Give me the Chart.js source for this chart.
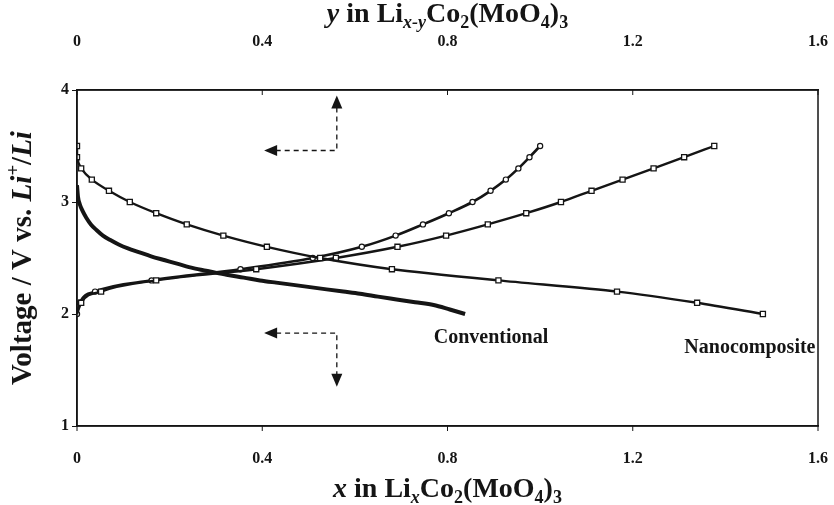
<!DOCTYPE html>
<html>
<head>
<meta charset="utf-8">
<script src="https://cdn.jsdelivr.net/npm/chart.js@4.4.1/dist/chart.umd.min.js"></script>
<style>
  html, body { margin: 0; padding: 0; background: #fff; overflow: hidden; }
</style>
</head>
<body>
<canvas id="voltageChart" width="834" height="505"></canvas>
<script>
// tick values (both x axes share the 0..1.6 range)
const xTicks = [0, 0.4, 0.8, 1.2, 1.6];
const yTicks = [1, 2, 3, 4];

// nanocomposite, discharge (squares)
const nanoDisX = [0, 0, 0.009, 0.032, 0.069, 0.114, 0.171, 0.237, 0.316, 0.41, 0.525, 0.68, 0.91, 1.166, 1.339, 1.481];
const nanoDisV = [3.5, 3.4, 3.3, 3.2, 3.1, 3.0, 2.9, 2.8, 2.7, 2.6, 2.5, 2.4, 2.3, 2.2, 2.1, 2.0];

// nanocomposite, charge (squares, top axis y)
const nanoChgX = [0, 0.009, 0.052, 0.171, 0.387, 0.559, 0.692, 0.797, 0.887, 0.970, 1.045, 1.111, 1.178, 1.245, 1.311, 1.376];
const nanoChgV = [2.0, 2.1, 2.2, 2.3, 2.4, 2.5, 2.6, 2.7, 2.8, 2.9, 3.0, 3.1, 3.2, 3.3, 3.4, 3.5];

// conventional, discharge (dense line)
const convDisX = [0, 0.002, 0.006, 0.012, 0.02, 0.03, 0.042, 0.056, 0.072, 0.09, 0.11, 0.135, 0.16, 0.19, 0.22, 0.251,
  0.287, 0.323, 0.36, 0.395, 0.43, 0.467, 0.503, 0.539, 0.575, 0.611, 0.65, 0.69, 0.73, 0.77, 0.805, 0.838];
const convDisV = [3.15, 3.05, 2.98, 2.92, 2.86, 2.80, 2.75, 2.70, 2.66, 2.62, 2.585, 2.55, 2.515, 2.48, 2.445, 2.41,
  2.38, 2.35, 2.325, 2.30, 2.28, 2.26, 2.24, 2.22, 2.20, 2.18, 2.155, 2.13, 2.105, 2.08, 2.04, 2.00];

// conventional, charge (circles, top axis y)
const convChgX = [0, 0.006, 0.039, 0.161, 0.353, 0.509, 0.615, 0.688, 0.747, 0.803, 0.854, 0.893, 0.926, 0.953, 0.977, 1.0];
const convChgV = [2.0, 2.1, 2.2, 2.3, 2.4, 2.5, 2.6, 2.7, 2.8, 2.9, 3.0, 3.1, 3.2, 3.3, 3.4, 3.5];

const FONT = '"Liberation Serif", "Times New Roman", serif';
const INK = "#151515";
const CLEAR = "rgba(0,0,0,0)";

const pts = (xs, vs) => xs.map((x, i) => ({ x, y: vs[i] }));

function richText(ctx, parts, cx, baseY, size) {
  const fontOf = p => (p.it ? "italic " : "") + "bold " + ((p.sub || p.sup) ? Math.round(size * 0.66) : size) + "px " + FONT;
  let total = 0;
  parts.forEach(p => { ctx.font = fontOf(p); total += ctx.measureText(p.t).width; });
  let px = cx - total / 2;
  ctx.textAlign = "left";
  ctx.textBaseline = "alphabetic";
  parts.forEach(p => {
    ctx.font = fontOf(p);
    const dy = p.sub ? size * 0.22 : p.sup ? -size * 0.42 : 0;
    ctx.fillText(p.t, px, baseY + dy);
    px += ctx.measureText(p.t).width;
  });
}

function dashedArrow(ctx, path, list) {
  ctx.save();
  ctx.setLineDash([5, 4]);
  ctx.lineWidth = 1.3;
  ctx.beginPath();
  ctx.moveTo(path[0][0], path[0][1]);
  for (let i = 1; i < path.length; i++) ctx.lineTo(path[i][0], path[i][1]);
  ctx.stroke();
  ctx.restore();
  list.forEach(([x, y, dir]) => {
    ctx.beginPath();
    if (dir === "left") { ctx.moveTo(x, y); ctx.lineTo(x + 13, y - 5.5); ctx.lineTo(x + 13, y + 5.5); }
    if (dir === "up") { ctx.moveTo(x, y); ctx.lineTo(x - 5.5, y + 13); ctx.lineTo(x + 5.5, y + 13); }
    if (dir === "down") { ctx.moveTo(x, y); ctx.lineTo(x - 5.5, y - 13); ctx.lineTo(x + 5.5, y - 13); }
    ctx.closePath();
    ctx.fill();
  });
}

const decor = {
  id: "decor",
  afterDraw(chart) {
    const { ctx, chartArea: a, scales: { x, y } } = chart;
    ctx.save();
    ctx.strokeStyle = INK;
    ctx.fillStyle = INK;

    // frame, inward ticks on top axis, outward ticks on bottom axis
    ctx.lineWidth = 1.5;
    ctx.strokeRect(a.left, a.top, a.right - a.left, a.bottom - a.top);
    ctx.lineWidth = 1;
    xTicks.forEach(v => {
      const px = x.getPixelForValue(v);
      ctx.beginPath();
      ctx.moveTo(px, a.top); ctx.lineTo(px, a.top + 5);
      ctx.moveTo(px, a.bottom); ctx.lineTo(px, a.bottom + 5);
      ctx.stroke();
    });

    // direction arrows
    const ax = x.getPixelForValue(0.561), lx = x.getPixelForValue(0.404);
    const up1 = y.getPixelForValue(3.95), mid1 = y.getPixelForValue(3.46);
    dashedArrow(ctx, [[ax, up1 + 12], [ax, mid1], [lx + 12, mid1]], [[ax, up1, "up"], [lx, mid1, "left"]]);
    const mid2 = y.getPixelForValue(1.83), dn2 = y.getPixelForValue(1.35);
    dashedArrow(ctx, [[lx + 12, mid2], [ax, mid2], [ax, dn2 - 12]], [[lx, mid2, "left"], [ax, dn2, "down"]]);

    // curve labels
    ctx.font = "bold 20px " + FONT;
    ctx.textAlign = "center";
    ctx.textBaseline = "middle";
    ctx.fillText("Conventional", x.getPixelForValue(0.894), y.getPixelForValue(1.786));
    ctx.fillText("Nanocomposite", x.getPixelForValue(1.453), y.getPixelForValue(1.70));

    // axis titles
    const cx = (a.left + a.right) / 2;
    richText(ctx, [{ t: "y", it: 1 }, { t: " in Li" }, { t: "x-y", sub: 1, it: 1 }, { t: "Co" }, { t: "2", sub: 1 },
      { t: "(MoO" }, { t: "4", sub: 1 }, { t: ")" }, { t: "3", sub: 1 }], cx, 22, 28);
    richText(ctx, [{ t: "x", it: 1 }, { t: " in Li" }, { t: "x", sub: 1, it: 1 }, { t: "Co" }, { t: "2", sub: 1 },
      { t: "(MoO" }, { t: "4", sub: 1 }, { t: ")" }, { t: "3", sub: 1 }], cx, 497, 28);

    ctx.translate(31, (a.top + a.bottom) / 2);
    ctx.rotate(-Math.PI / 2);
    richText(ctx, [{ t: "Voltage / V vs. " }, { t: "Li", it: 1 }, { t: "+", sup: 1, it: 1 }, { t: "/" }, { t: "Li", it: 1 }], 0, 0, 29);
    ctx.restore();
  }
};

const tickFont = { family: FONT, size: 16, weight: "bold" };
const fmt = v => String(+Number(v).toFixed(1));

new Chart(voltageChart, {
  type: "scatter",
  data: {
    datasets: [
      { label: "Nanocomposite discharge", data: pts(nanoDisX, nanoDisV), showLine: true, tension: 0.25,
        borderColor: INK, borderWidth: 2.4, pointStyle: "rect", pointRadius: 3.6, pointBorderWidth: 1.3,
        pointBackgroundColor: "#fff", pointBorderColor: INK },
      { label: "Nanocomposite charge", data: pts(nanoChgX, nanoChgV), showLine: true, cubicInterpolationMode: "monotone",
        borderColor: INK, borderWidth: 2.4, pointStyle: "rect", pointRadius: c => c.dataIndex === 0 ? 0 : 3.6,
        pointBorderWidth: 1.3, pointBackgroundColor: "#fff", pointBorderColor: INK },
      { label: "Conventional discharge", data: pts(convDisX, convDisV), showLine: true, cubicInterpolationMode: "monotone",
        borderColor: INK, borderWidth: 4, pointRadius: 0 },
      { label: "Conventional charge", data: pts(convChgX, convChgV), showLine: true, cubicInterpolationMode: "monotone",
        borderColor: INK, borderWidth: 2.6, pointStyle: "circle", pointRadius: 2.6, pointBorderWidth: 1.2,
        pointBackgroundColor: "#fff", pointBorderColor: INK }
    ]
  },
  options: {
    responsive: false,
    animation: false,
    devicePixelRatio: 1,
    layout: { padding: { right: 16 } },
    plugins: { legend: { display: false }, tooltip: { enabled: false } },
    scales: {
      x: {
        type: "linear", position: "bottom", min: 0, max: 1.6,
        afterBuildTicks: s => { s.ticks = xTicks.map(v => ({ value: v })); },
        ticks: { font: tickFont, color: INK, padding: 3, callback: fmt },
        grid: { drawOnChartArea: false, tickLength: 20, color: CLEAR },
        border: { color: INK, width: 1.5 },
        afterFit: s => { s.height = 79; }
      },
      x2: {
        type: "linear", position: "top", min: 0, max: 1.6,
        afterBuildTicks: s => { s.ticks = xTicks.map(v => ({ value: v })); },
        ticks: { font: tickFont, color: INK, padding: 3, callback: fmt },
        grid: { drawOnChartArea: false, tickLength: 36, color: CLEAR },
        border: { color: INK, width: 1.5 },
        afterFit: s => { s.height = 90; }
      },
      y: {
        type: "linear", min: 1, max: 4,
        afterBuildTicks: s => { s.ticks = yTicks.map(v => ({ value: v })); },
        ticks: { font: tickFont, color: INK, padding: 3 },
        grid: { drawOnChartArea: false, tickLength: 5, color: INK },
        border: { color: INK, width: 1.5 },
        afterFit: s => { s.width = 77; }
      }
    }
  },
  plugins: [decor]
});
</script>
</body>
</html>
